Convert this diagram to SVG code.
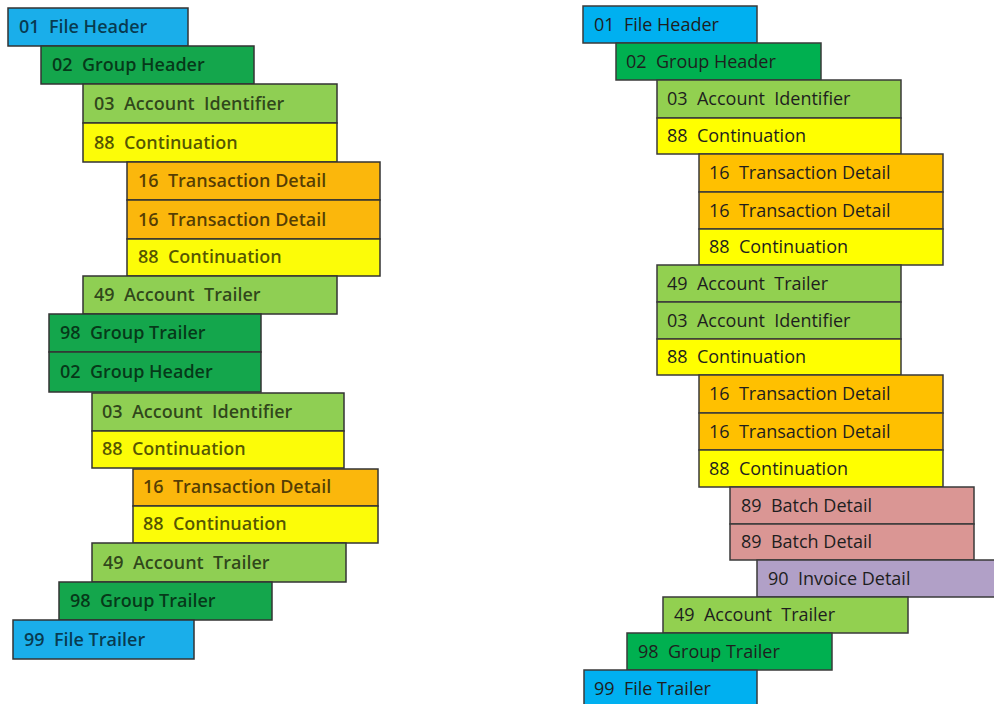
<svg xmlns="http://www.w3.org/2000/svg" width="994" height="704" viewBox="0 0 994 704">
<style>
rect{stroke-width:1.5}
.L rect{stroke:#333}
.R rect{stroke:#3a3a3a}
text{font-family:"Open Sans","Noto Sans","Liberation Sans",sans-serif;font-size:18px;white-space:pre}
.L text{font-weight:600;fill:#000;fill-opacity:0.68}
.R text{fill:#1e1e1e}
.lb{fill:#1AAEEA}.lg{fill:#14A64C}.ll{fill:#8FCF53}.ly{fill:#FCFC08}.lo{fill:#FBB70C}
.rb{fill:#00B0F0}.rg{fill:#00B050}.rl{fill:#92D050}.ry{fill:#FFFF00}.ro{fill:#FFC000}.rp{fill:#DA9694}.rv{fill:#B1A0C7}
</style>
<rect width="994" height="704" fill="#fff"/>
<g class="L">
<g id="l01"><rect class="lb" x="8" y="8" width="180" height="38"/><text x="19" y="33">01  File Header</text></g>
<g id="l02"><rect class="lg" x="41" y="46" width="213" height="38"/><text x="52" y="71">02  Group Header</text></g>
<g id="l03"><rect class="ll" x="83" y="84" width="254" height="39"/><text x="94" y="110">03  Account  Identifier</text></g>
<g id="l04"><rect class="ly" x="83" y="123" width="254" height="39"/><text x="94" y="149">88  Continuation</text></g>
<g id="l05"><rect class="lo" x="127" y="162" width="253" height="38"/><text x="138" y="187">16  Transaction Detail</text></g>
<g id="l06"><rect class="lo" x="127" y="200" width="253" height="39"/><text x="138" y="226">16  Transaction Detail</text></g>
<g id="l07"><rect class="ly" x="127" y="239" width="253" height="37"/><text x="138" y="263">88  Continuation</text></g>
<g id="l08"><rect class="ll" x="83" y="276" width="254" height="38"/><text x="94" y="301">49  Account  Trailer</text></g>
<g id="l09"><rect class="lg" x="49" y="314" width="212" height="38"/><text x="60" y="339">98  Group Trailer</text></g>
<g id="l10"><rect class="lg" x="49" y="352" width="212" height="40"/><text x="60" y="378">02  Group Header</text></g>
<g id="l11"><rect class="ll" x="92" y="393" width="252" height="38"/><text x="102" y="418">03  Account  Identifier</text></g>
<g id="l12"><rect class="ly" x="92" y="431" width="252" height="37"/><text x="102" y="455">88  Continuation</text></g>
<g id="l13"><rect class="lo" x="133" y="469" width="245" height="37"/><text x="143" y="493">16  Transaction Detail</text></g>
<g id="l14"><rect class="ly" x="133" y="506" width="245" height="37"/><text x="143" y="530">88  Continuation</text></g>
<g id="l15"><rect class="ll" x="92" y="543" width="254" height="39"/><text x="103" y="569">49  Account  Trailer</text></g>
<g id="l16"><rect class="lg" x="59" y="582" width="213" height="38"/><text x="70" y="607">98  Group Trailer</text></g>
<g id="l17"><rect class="lb" x="13" y="620" width="181" height="39"/><text x="24" y="646">99  File Trailer</text></g>
</g>
<g class="R">
<g id="r01"><rect class="rb" x="583" y="6" width="174" height="37"/><text x="594" y="31">01  File Header</text></g>
<g id="r02"><rect class="rg" x="616" y="43" width="205" height="37"/><text x="626" y="68">02  Group Header</text></g>
<g id="r03"><rect class="rl" x="657" y="80" width="244" height="38"/><text x="667" y="105">03  Account  Identifier</text></g>
<g id="r04"><rect class="ry" x="657" y="118" width="244" height="36"/><text x="667" y="142">88  Continuation</text></g>
<g id="r05"><rect class="ro" x="699" y="154" width="244" height="38"/><text x="709" y="179">16  Transaction Detail</text></g>
<g id="r06"><rect class="ro" x="699" y="192" width="244" height="37"/><text x="709" y="217">16  Transaction Detail</text></g>
<g id="r07"><rect class="ry" x="699" y="229" width="244" height="36"/><text x="709" y="253">88  Continuation</text></g>
<g id="r08"><rect class="rl" x="657" y="265" width="244" height="37"/><text x="667" y="290">49  Account  Trailer</text></g>
<g id="r09"><rect class="rl" x="657" y="302" width="244" height="37"/><text x="667" y="327">03  Account  Identifier</text></g>
<g id="r10"><rect class="ry" x="657" y="339" width="244" height="36"/><text x="667" y="363">88  Continuation</text></g>
<g id="r11"><rect class="ro" x="699" y="375" width="244" height="38"/><text x="709" y="400">16  Transaction Detail</text></g>
<g id="r12"><rect class="ro" x="699" y="413" width="244" height="37"/><text x="709" y="438">16  Transaction Detail</text></g>
<g id="r13"><rect class="ry" x="699" y="450" width="244" height="37"/><text x="709" y="475">88  Continuation</text></g>
<g id="r14"><rect class="rp" x="730" y="487" width="244" height="37"/><text x="741" y="512">89  Batch Detail</text></g>
<g id="r15"><rect class="rp" x="730" y="524" width="244" height="36"/><text x="741" y="548">89  Batch Detail</text></g>
<g id="r16"><rect class="rv" x="757" y="560" width="250" height="37"/><text x="768" y="585">90  Invoice Detail</text></g>
<g id="r17"><rect class="rl" x="663" y="597" width="245" height="36"/><text x="674" y="621">49  Account  Trailer</text></g>
<g id="r18"><rect class="rg" x="627" y="633" width="205" height="37"/><text x="638" y="658">98  Group Trailer</text></g>
<g id="r19"><rect class="rb" x="584" y="670" width="173" height="40"/><text x="594" y="695">99  File Trailer</text></g>
</g>
</svg>
